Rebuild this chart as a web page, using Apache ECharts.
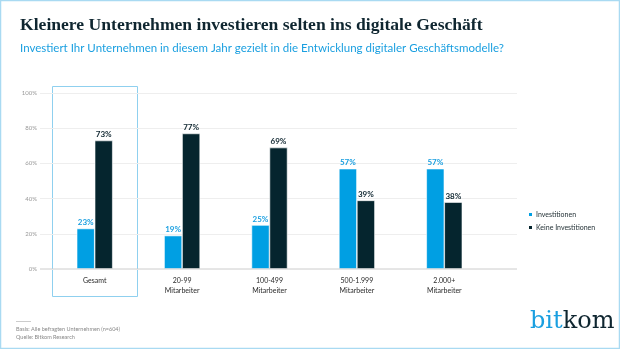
<!DOCTYPE html>
<html><head><meta charset="utf-8">
<script src="https://cdn.jsdelivr.net/npm/echarts@6/dist/echarts.min.js"></script>
<style>html,body{margin:0;padding:0;background:#fff}#c{width:620px;height:349px}</style>
</head><body><div id="c"></div>
<script>
const categories = ['Gesamt', '20-99\nMitarbeiter', '100-499\nMitarbeiter', '500-1.999\nMitarbeiter', '2.000+\nMitarbeiter'];
const investitionen = [23, 19, 25, 57, 57];
const keineInvestitionen = [73, 77, 69, 39, 38];
const yTicks = [0, 20, 40, 60, 80, 100];

const BLUE = '#009fe3', DARK = '#05252e';
const chart = echarts.init(document.getElementById('c'), null, {renderer: 'canvas'});
const labelStyle = (color) => ({show: true, position: 'top', distance: 2, formatter: '{c}%', color: color, fontSize: 8, fontWeight: 'bold', fontFamily: 'Lato'});
chart.setOption({
  animation: false,
  backgroundColor: '#fff',
  title: [
    {text: 'Kleinere Unternehmen investieren selten ins digitale Geschäft', left: 15, top: 11,
     textStyle: {fontFamily: 'Liberation Serif', fontWeight: 'bold', fontSize: 17.6, color: '#0f2630'}},
    {text: 'Investiert Ihr Unternehmen in diesem Jahr gezielt in die Entwicklung digitaler Geschäftsmodelle?', left: 15, top: 37,
     textStyle: {fontFamily: 'Lato', fontWeight: 'normal', fontSize: 11.5, color: '#1a9fe0'}}
  ],
  legend: {
    orient: 'vertical', left: 522, top: 206, itemWidth: 5, itemHeight: 5, itemGap: 6, icon: 'rect',
    textStyle: {fontFamily: 'Lato', fontSize: 7, color: '#1d2b30', padding: [0,0,0,-2]},
    data: ['Investitionen', 'Keine Investitionen']
  },
  grid: [
    {left: 40, right: 103, top: 93, bottom: 80, containLabel: false},
    {left: 51, right: 132, top: 93, bottom: 80, containLabel: false}
  ],
  xAxis: [
    {gridIndex: 0, type: 'value', show: false, min: 0, max: 1},
    {gridIndex: 1, type: 'category', data: categories,
     axisLine: {show: false}, axisTick: {show: false},
     axisLabel: {fontFamily: 'Lato', fontSize: 7, color: '#2a2a2a', lineHeight: 10, margin: 7}}
  ],
  yAxis: [
    {gridIndex: 0, type: 'value', min: 0, max: 100, interval: 20,
     axisLabel: {formatter: '{value}%', fontFamily: 'Lato', fontSize: 6, color: '#999', margin: 3},
     axisLine: {show: false}, axisTick: {show: false},
     splitLine: {lineStyle: {color: '#eeeeee', width: 1}}},
    {gridIndex: 1, type: 'value', min: 0, max: 100, show: false, splitLine: {show: false}}
  ],
  series: [
    {type: 'line', xAxisIndex: 0, yAxisIndex: 0, data: [[0, 0], [1, 0]], symbol: 'none', silent: true,
     lineStyle: {color: '#cccccc', width: 1}, legendHoverLink: false},
    {name: 'Investitionen', type: 'bar', xAxisIndex: 1, yAxisIndex: 1, data: investitionen, barWidth: 18, barGap: '0%',
     itemStyle: {color: BLUE, borderColor: '#fff', borderWidth: 0.6}, label: labelStyle('#1a9fe0')},
    {name: 'Keine Investitionen', type: 'bar', xAxisIndex: 1, yAxisIndex: 1, data: keineInvestitionen, barWidth: 18, barGap: '0%',
     itemStyle: {color: DARK, borderColor: '#fff', borderWidth: 0.6}, label: labelStyle('#0f2630')}
  ],
  graphic: [
    {type: 'rect', shape: {x: 0.5, y: 0.5, width: 619, height: 348}, style: {fill: 'none', stroke: '#a9daf2', lineWidth: 1.5}, silent: true},
    {type: 'rect', shape: {x: 52.5, y: 86.5, width: 85, height: 210}, style: {fill: 'none', stroke: '#8fd0ef', lineWidth: 1}, silent: true},
    {type: 'rect', shape: {x: 16, y: 321, width: 15, height: 1}, style: {fill: '#cccccc'}, silent: true},
    {type: 'text', left: 16, top: 325, style: {text: 'Basis: Alle befragten Unternehmen (n=604)\nQuelle: Bitkom Research', fontFamily: 'Lato', fontSize: 5.5, lineHeight: 8, fill: '#888'}},
    {type: 'text', left: 530, top: 310, style: {rich: {b: {fill: '#1a9fe0', fontFamily: 'DejaVu Serif', fontSize: 24}, k: {fill: '#0f2630', fontFamily: 'DejaVu Serif', fontSize: 24}}, text: '{b|bit}{k|kom}'}}
  ]
});
</script></body></html>
